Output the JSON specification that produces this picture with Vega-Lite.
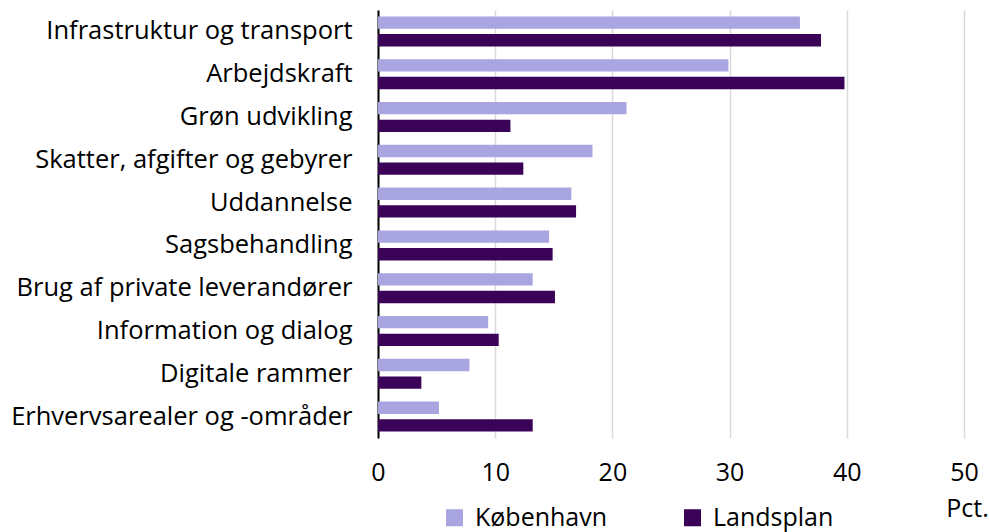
{
  "$schema": "https://vega.github.io/schema/vega-lite/v6.json",
  "width": 586,
  "height": 428,
  "autosize": {"type": "none"},
  "padding": {"left": 378, "top": 10, "right": 25, "bottom": 94},
  "background": "white",
  "config": {
    "view": {"stroke": null},
    "font": "Open Sans",
    "axis": {"labelFont": "Open Sans", "titleFont": "Open Sans"},
    "legend": {"labelFont": "Open Sans"}
  },
  "data": {
    "values": [
      {"kategori": "Infrastruktur og transport", "serie": "København", "pct": 36.0},
      {"kategori": "Infrastruktur og transport", "serie": "Landsplan", "pct": 37.8},
      {"kategori": "Arbejdskraft", "serie": "København", "pct": 29.9},
      {"kategori": "Arbejdskraft", "serie": "Landsplan", "pct": 39.8},
      {"kategori": "Grøn udvikling", "serie": "København", "pct": 21.2},
      {"kategori": "Grøn udvikling", "serie": "Landsplan", "pct": 11.3},
      {"kategori": "Skatter, afgifter og gebyrer", "serie": "København", "pct": 18.3},
      {"kategori": "Skatter, afgifter og gebyrer", "serie": "Landsplan", "pct": 12.4},
      {"kategori": "Uddannelse", "serie": "København", "pct": 16.5},
      {"kategori": "Uddannelse", "serie": "Landsplan", "pct": 16.9},
      {"kategori": "Sagsbehandling", "serie": "København", "pct": 14.6},
      {"kategori": "Sagsbehandling", "serie": "Landsplan", "pct": 14.9},
      {"kategori": "Brug af private leverandører", "serie": "København", "pct": 13.2},
      {"kategori": "Brug af private leverandører", "serie": "Landsplan", "pct": 15.1},
      {"kategori": "Information og dialog", "serie": "København", "pct": 9.4},
      {"kategori": "Information og dialog", "serie": "Landsplan", "pct": 10.3},
      {"kategori": "Digitale rammer", "serie": "København", "pct": 7.8},
      {"kategori": "Digitale rammer", "serie": "Landsplan", "pct": 3.7},
      {"kategori": "Erhvervsarealer og -områder", "serie": "København", "pct": 5.2},
      {"kategori": "Erhvervsarealer og -områder", "serie": "Landsplan", "pct": 13.2}
    ]
  },
  "mark": {"type": "bar"},
  "encoding": {
    "y": {
      "field": "kategori",
      "type": "nominal",
      "sort": null,
      "scale": {"paddingInner": 0.3, "paddingOuter": 0.15},
      "axis": {
        "title": null,
        "labelFontSize": 25.5,
        "labelColor": "#000000",
        "labelPadding": 26,
        "labelLimit": 0,
        "ticks": false,
        "domainColor": "#000000",
        "domainWidth": 2,
        "grid": false
      }
    },
    "yOffset": {
      "field": "serie",
      "type": "nominal",
      "sort": ["København", "Landsplan"],
      "scale": {"paddingInner": 0.3}
    },
    "x": {
      "field": "pct",
      "type": "quantitative",
      "scale": {"domain": [0, 50], "nice": false},
      "axis": {
        "values": [0, 10, 20, 30, 40, 50],
        "title": "Pct.",
        "titleFontSize": 25,
        "titleFontWeight": "normal",
        "titleColor": "#000000",
        "titleX": 589,
        "titleY": 78,
        "titleAlign": "center",
        "titleBaseline": "alphabetic",
        "labelFontSize": 25,
        "labelColor": "#000000",
        "labelPadding": 22,
        "labelFlush": false,
        "ticks": false,
        "domain": false,
        "grid": true,
        "gridColor": "#d9d9d9",
        "gridWidth": 1.5
      }
    },
    "color": {
      "field": "serie",
      "type": "nominal",
      "scale": {"domain": ["København", "Landsplan"], "range": ["#a9a5e0", "#3b0358"]},
      "legend": {
        "title": null,
        "orient": "none",
        "direction": "horizontal",
        "legendX": 64,
        "legendY": 495,
        "symbolType": "square",
        "symbolSize": 290,
        "symbolStrokeWidth": 0,
        "labelFontSize": 25,
        "labelColor": "#000000",
        "labelOffset": 8,
        "columnPadding": 72
      }
    }
  }
}
